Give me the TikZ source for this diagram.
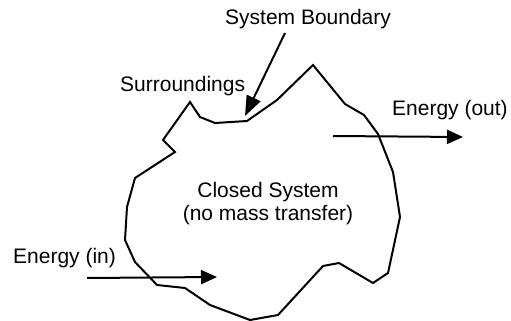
\documentclass[tikz,border=0pt]{standalone}
\usepackage{fontspec}
\setmainfont{Liberation Sans}
\usetikzlibrary{arrows.meta}
\begin{document}
\begin{tikzpicture}[x=1pt,y=-1pt,
  lbl/.style={font=\fontsize{21}{24}\selectfont, inner sep=0pt, anchor=base west},
  bnd/.style={line width=2pt, line join=miter},
  flow/.style={line width=2pt, -{Triangle[length=16pt,width=14pt]}}]
\useasboundingbox (0,0) rectangle (511,321);
% system boundary
\draw[bnd] (190,102) -- (200,117) -- (215,123) -- (247,121) -- (277,100) -- (313,65)
  -- (345,104) -- (364,115) -- (378,134) -- (393,172) -- (400,217) -- (388,273)
  -- (373,283) -- (339,263) -- (323,266) -- (278,315) -- (250,320) -- (210,305)
  -- (185,288) -- (157,285) -- (135,262) -- (125,240) -- (127,207) -- (135,178)
  -- (175,152) -- (163,140) -- cycle;
% labels
\node[lbl] (sb) at (225,25) {System Boundary};
\node[lbl] (sur) at (120,91) {Surroundings};
\node[lbl] (eout) at (392,115) {Energy (out)};
\node[lbl] (ein) at (13,263) {Energy (in)};
\node[lbl, anchor=base] (cs) at (268,197) {Closed System};
\node[lbl, anchor=base] (nm) at (268,220) {(no mass transfer)};
% arrow endpoints
\coordinate (sbs) at (285,33);
\coordinate (sbt) at (245,116);
\coordinate (ins) at (87,278);
\coordinate (int) at (217,277);
\coordinate (outs) at (333,136);
\coordinate (outt) at (463,137);
\draw[line width=2pt, -{Triangle[length=20pt,width=15pt]}] (sbs) -- (sbt);
\draw[flow] (ins) -- (int);
\draw[flow] (outs) -- (outt);
\end{tikzpicture}
\end{document}
